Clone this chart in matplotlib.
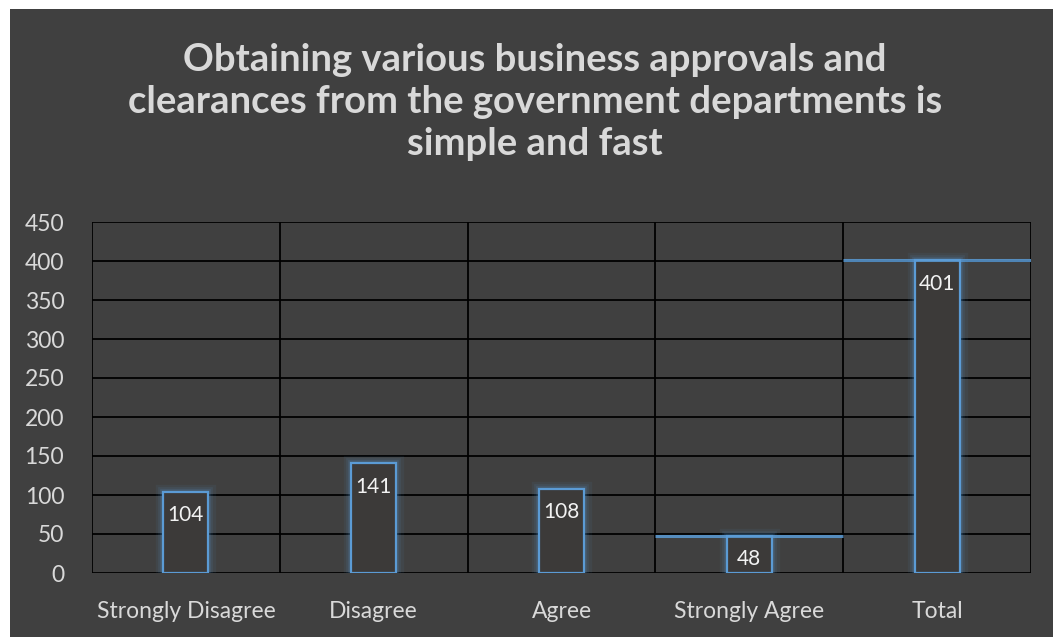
import matplotlib.pyplot as plt
from matplotlib.patches import Rectangle

plt.rcParams['font.family'] = ['Lato', 'DejaVu Sans']

categories = ['Strongly Disagree', 'Disagree', 'Agree', 'Strongly Agree', 'Total']
responses = [104, 141, 108, 48, 401]
title_lines = ['Obtaining various business approvals and',
               'clearances from the government departments is',
               'simple and fast']

BG = '#404040'
TEXT = '#d9d9d9'
BLUE = '#5b9bd5'

fig = plt.figure(figsize=(10.53, 6.37), dpi=100, facecolor='white')
# dark chart area with a thin white margin on the left and top
fig.add_artist(Rectangle((10 / 1053, 0), 1 - 10 / 1053, 1 - 9 / 637,
                         transform=fig.transFigure, facecolor=BG,
                         edgecolor='none', zorder=-10))

ax = fig.add_axes([92 / 1053, 64 / 637, (1031 - 92) / 1053, (573 - 222) / 637])
ax.set_facecolor(BG)
ax.set_xlim(-0.5, len(categories) - 0.5)
ax.set_ylim(0, 450)
ax.set_yticks(range(0, 451, 50))
ax.set_xticks(range(len(categories)))
ax.set_xticklabels(categories)

# grid: horizontal every 50, vertical at category boundaries
for y in range(0, 451, 50):
    ax.axhline(y, color='black', lw=1.3, zorder=1)
for x in range(len(categories) + 1):
    ax.axvline(x - 0.5, color='black', lw=1.3, zorder=1)
for s in ax.spines.values():
    s.set_visible(False)

xs = range(len(categories))
width = 0.24
# soft glow behind the outlined bars, built up in a few faint layers
for lw, a in ((11, 0.07), (7, 0.1), (4, 0.16)):
    ax.bar(xs, responses, width=width, facecolor='none', edgecolor=BLUE,
           linewidth=lw, alpha=a, zorder=2)
ax.bar(xs, responses, width=width, facecolor='#3c3a39', edgecolor=BLUE,
       linewidth=1.6, zorder=3)

# highlighted caps spanning the last two categories
for i in (3, 4):
    ax.hlines(responses[i], i - 0.5, i + 0.5, color=BLUE, lw=2.2, alpha=0.85, zorder=4)

for x, v in zip(xs, responses):
    ax.annotate(str(v), (x, v), xytext=(0, -17), textcoords='offset points',
                ha='center', va='center', color='#f2f2f2', fontsize=15, zorder=5)

ax.tick_params(axis='both', length=0, colors=TEXT, labelsize=16.5)
ax.tick_params(axis='y', pad=20)
ax.tick_params(axis='x', pad=20)

for k, line in enumerate(title_lines):
    fig.text(0.508, 1 - (60 + 42 * k) / 637, line, ha='center', va='center',
             fontsize=27.5, fontweight='bold', color=TEXT)

fig.savefig('out.png', dpi=100, facecolor=fig.get_facecolor())
